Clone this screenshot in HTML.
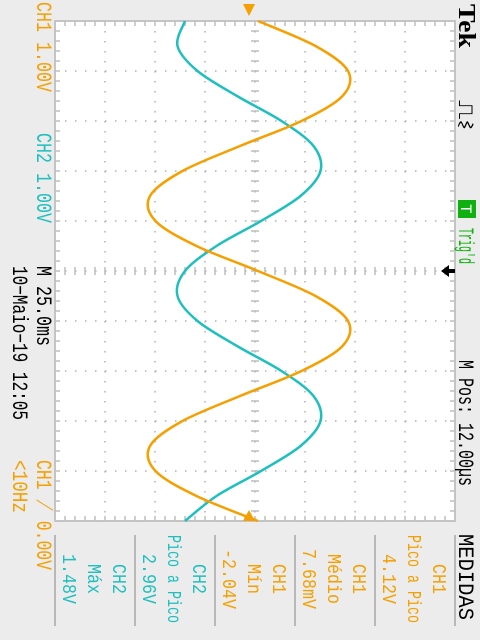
<!DOCTYPE html>
<html><head><meta charset="utf-8"><style>
html,body{margin:0;padding:0;background:#ececec;}
svg{display:block;font-family:"Liberation Mono","DejaVu Sans Mono",monospace;}
</style></head><body>
<svg id="scope" width="480" height="640" viewBox="0 0 480 640" xmlns="http://www.w3.org/2000/svg">
<rect x="0" y="0" width="480" height="640" fill="#ececec"/>
<rect x="55" y="21" width="400" height="500" fill="#ffffff" stroke="#c4c4c4" stroke-width="2"/>
<g id="grid"></g>
<g id="traces"></g>
<g fill="#000">
<text transform="translate(37,2) rotate(90)" font-size="22" fill="#f5a000" textLength="90" lengthAdjust="spacingAndGlyphs" dominant-baseline="auto" dy="0">CH1 1.00V</text>
<text transform="translate(37,133) rotate(90)" font-size="22" fill="#1fbfbf" textLength="90" lengthAdjust="spacingAndGlyphs">CH2 1.00V</text>
<text transform="translate(37,266) rotate(90)" font-size="22" fill="#000" textLength="80" lengthAdjust="spacingAndGlyphs">M 25.0ms</text>
<text transform="translate(13,266) rotate(90)" font-size="22" fill="#000" textLength="154" lengthAdjust="spacingAndGlyphs">10−Maio−19 12:05</text>
<text transform="translate(37,460) rotate(90)" font-size="22" fill="#f5a000" textLength="110" lengthAdjust="spacingAndGlyphs">CH1 ⟋ 0.00V</text>
<text transform="translate(13,460) rotate(90)" font-size="22" fill="#f5a000" textLength="53" lengthAdjust="spacingAndGlyphs">&lt;10Hz</text>
<text transform="translate(459,4) rotate(90)" font-size="24" font-weight="bold" font-family="Liberation Serif,serif" fill="#000" textLength="44" lengthAdjust="spacingAndGlyphs">Tek</text>
<text transform="translate(459,100) rotate(90)" font-size="20" fill="#000" textLength="30" lengthAdjust="spacingAndGlyphs">⎍⌇</text>
<rect x="458" y="200" width="18" height="18" fill="#10b010"/>
<text transform="translate(461,204) rotate(90)" font-size="16" fill="#fff">T</text>
<text transform="translate(459,228) rotate(90)" font-size="22" fill="#10b010" textLength="36" lengthAdjust="spacingAndGlyphs">Trig'd</text>
<text transform="translate(459,360) rotate(90)" font-size="22" fill="#000" textLength="126" lengthAdjust="spacingAndGlyphs">M Pos: 12.00µs</text>
<text transform="translate(459,534) rotate(90)" font-size="22" fill="#000" textLength="86" lengthAdjust="spacingAndGlyphs">MEDIDAS</text>
</g>
<g id="meas"></g>
<g>
<path d="M441,271 L449,265 L449,269 L455,269 L455,273 L449,273 L449,277 Z" fill="#000"/>
<path d="M243,521 L249,510 L255,521 Z" fill="#f5a000"/>
<path d="M243,4 L249,16 L255,4 Z" fill="#f5a000"/>
</g>
</svg>
<script>
// Time samples in divisions (0..10), every 0.5 div
const timeDiv = [0,0.5,1,1.5,2,2.5,3,3.5,4,4.5,5,5.5,6,6.5,7,7.5,8,8.5,9,9.5,10];
// CH1 volts
const ch1Volts = [0.18,1.33,1.98,1.87,1.05,-0.18,-1.33,-1.98,-1.87,-1.05,0.18,1.33,1.98,1.87,1.05,-0.18,-1.33,-1.98,-1.87,-1.05,0.18];
// CH2 volts
const ch2Volts = [-1.28,-1.43,-1.03,-0.24,0.65,1.29,1.43,1.03,0.24,-0.65,-1.28,-1.43,-1.03,-0.24,0.65,1.29,1.43,1.03,0.24,-0.65,-1.28];
const measLabels = [["CH1","Pico a Pico","4.12V"],["CH1","Médio","7.68mV"],["CH1","Mín","-2.04V"],["CH2","Pico a Pico","2.96V"],["CH2","Máx","1.48V"]];
const measColors = ["#f5a000","#f5a000","#f5a000","#1fbfbf","#1fbfbf"];

const NS="http://www.w3.org/2000/svg";
const X0=55,Y0=21,W=400,H=500;
function yScale(t){return Y0+t*50;}
function xScale(v){return 249+v*50;}
function mk(tag,parent){const e=document.createElementNS(NS,tag);parent.appendChild(e);return e;}

// grid
const g=document.getElementById('grid');
let d='';
for(let i=1;i<8;i++){const x=X0+i*50;for(let y=Y0+10;y<Y0+H;y+=10)d+=`M${x-0.75},${y}h1.5v1.5h-1.5z`;}
for(let j=1;j<10;j++){const y=Y0+j*50;for(let x=X0+10;x<X0+W;x+=10)d+=`M${x},${y-0.75}h1.5v1.5h-1.5z`;}
// ticks on border and center axes
let tk='';
for(let y=Y0+10;y<Y0+H;y+=10){tk+=`M${X0},${y}h5M${X0+W},${y}h-5M251,${y}h8`;}
for(let x=X0+10;x<X0+W;x+=10){tk+=`M${x},${Y0}v5M${x},${Y0+H}v-5M${x},267v8`;}
const gd=mk('path',g);gd.setAttribute('d',d);gd.setAttribute('fill','#b0b0b0');


const gt=mk('path',g);gt.setAttribute('d',tk);gt.setAttribute('stroke','#bdbdbd');gt.setAttribute('stroke-width','1.5');gt.setAttribute('fill','none');



function smooth(vals){
  const p=timeDiv.map((t,i)=>[xScale(vals[i]),yScale(t)]);
  let s=`M${p[0][0]},${p[0][1]}`;
  for(let i=0;i<p.length-1;i++){
    const a=p[Math.max(i-1,0)],b=p[i],c=p[i+1],e=p[Math.min(i+2,p.length-1)];
    s+=` C${b[0]+(c[0]-a[0])/6},${b[1]+(c[1]-a[1])/6} ${c[0]-(e[0]-b[0])/6},${c[1]-(e[1]-b[1])/6} ${c[0]},${c[1]}`;
  }
  return s;
}
const tr=document.getElementById('traces');
const c2=mk('path',tr);c2.setAttribute('d',smooth(ch2Volts));c2.setAttribute('stroke','#1fbfbf');c2.setAttribute('stroke-width','2.5');c2.setAttribute('fill','none');


const c1=mk('path',tr);c1.setAttribute('d',smooth(ch1Volts));c1.setAttribute('stroke','#f5a000');c1.setAttribute('stroke-width','2.5');c1.setAttribute('fill','none');



// measurement panel
const m=document.getElementById('meas');
const seps=[455,375,295,215,135,55];
seps.forEach(x=>{const l=mk('line',m);l.setAttribute('x1',x);l.setAttribute('x2',x);l.setAttribute('y1',535);l.setAttribute('y2',626);l.setAttribute('stroke','#b8b8b8');l.setAttribute('stroke-width','2');

});
const lens={"CH1":30,"CH2":30,"Pico a Pico":88,"Médio":50,"Mín":30,"Máx":30,"4.12V":50,"7.68mV":60,"-2.04V":60,"2.96V":50,"1.48V":50};
measLabels.forEach((lines,k)=>{
  const left=375-k*80;
  const offs=[58,33,8];
  lines.forEach((txt,j)=>{
    const t=mk('text',m);
    t.setAttribute('transform',`translate(${left+offs[j]},579) rotate(90)`);
    t.setAttribute('text-anchor','middle');t.setAttribute('font-size','19');t.setAttribute('fill',measColors[k]);
    if(lens[txt]){t.setAttribute('textLength',lens[txt]);t.setAttribute('lengthAdjust','spacingAndGlyphs');}
    t.textContent=txt;
    
    
  });
});
</script>
</body></html>
